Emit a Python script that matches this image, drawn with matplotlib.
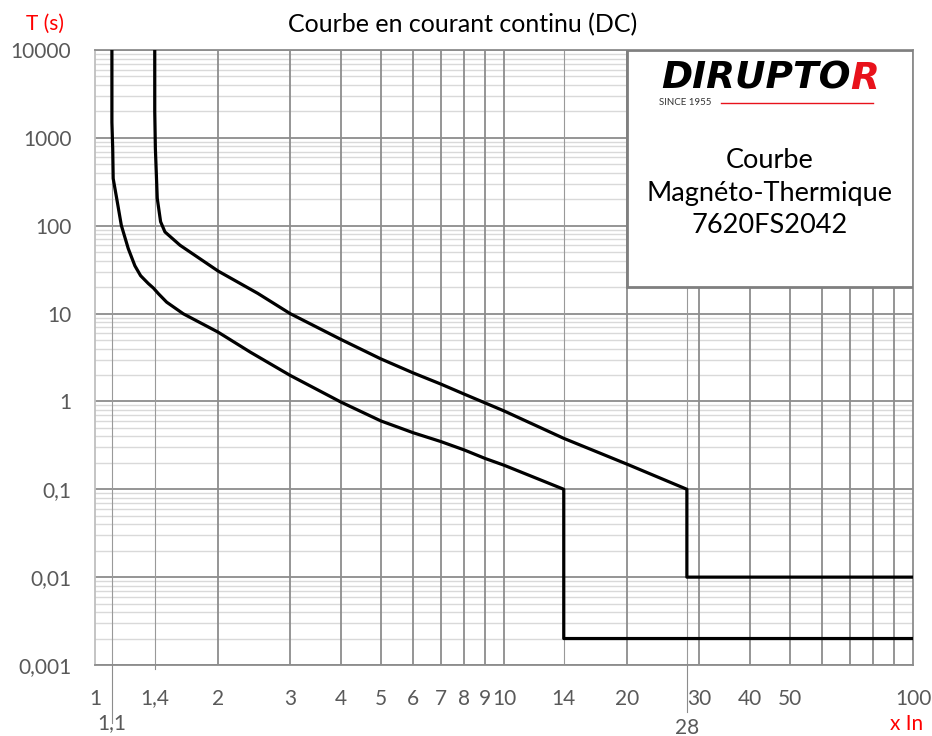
import matplotlib
matplotlib.use("Agg")
import matplotlib.pyplot as plt
from matplotlib.patches import Rectangle
import numpy as np

plt.rcParams['font.family'] = ['Lato', 'DejaVu Sans']

# courbe basse (déclenchement mini)
x_bas = [1.1, 1.1, 1.105, 1.108, 1.13, 1.16, 1.206, 1.252, 1.293, 1.35, 1.39, 1.43, 1.497, 1.644, 2.0, 2.4, 3.0, 4.0, 5.0, 6.0, 7.0, 8.0, 9.0, 10.0, 14.0, 14.0, 100]
t_bas = [10000, 1500, 760, 345, 205, 101, 55, 35, 27, 22, 19.5, 16.8, 13.5, 9.95, 6.15, 3.63, 1.98, 0.98, 0.6, 0.44, 0.35, 0.28, 0.224, 0.188, 0.1, 0.002, 0.002]

# courbe haute (déclenchement maxi)
x_haut = [1.4, 1.4, 1.405, 1.42, 1.447, 1.483, 1.614, 2.0, 2.5, 3.0, 4.0, 5.0, 6.0, 7.0, 8.0, 9.0, 10.0, 14.0, 20.0, 28.0, 28.0, 100]
t_haut = [10000, 2000, 760, 205, 111, 85, 60, 30.5, 17, 10.0, 5.06, 3.05, 2.11, 1.58, 1.21, 0.96, 0.78, 0.38, 0.193, 0.1, 0.01, 0.01]

x_ticks = [1, 1.4, 2, 3, 4, 5, 6, 7, 8, 9, 10, 14, 20, 30, 40, 50, 100]
x_ticklabels = ['1', '1,4', '2', '3', '4', '5', '6', '7', '8', '9', '10', '14', '20', '30', '40', '50', '100']
x_extra = [1.1, 28]
x_extra_labels = ['1,1', '28']
y_ticks = [0.001, 0.01, 0.1, 1, 10, 100, 1000, 10000]
y_ticklabels = ['0,001', '0,01', '0,1', '1', '10', '100', '1000', '10000']

x_grid = [2, 3, 4, 5, 6, 7, 8, 9, 10, 20, 30, 40, 50, 60, 70, 80, 90]
x_grid_fin = [1.1, 1.4, 14, 28]

gris = '#595959'
fig = plt.figure(figsize=(9.32, 7.36), dpi=100)
ax = fig.add_axes([0.1019, 0.0965, 0.8777, 0.8355])
ax.set_xscale('log')
ax.set_yscale('log')
ax.set_xlim(1, 100)
ax.set_ylim(0.001, 10000)

# grille
for d in range(-3, 4):
    for k in range(2, 10):
        ax.axhline(k * 10.0 ** d, color='#d9d9d9', lw=1.0, zorder=1)
for v in y_ticks:
    ax.axhline(v, color='#8c8c8c', lw=1.3, zorder=1.5)
for v in x_grid:
    ax.axvline(v, color='#8c8c8c', lw=1.3, zorder=1.5)
for v in x_grid_fin:
    ax.axvline(v, color='#999999', lw=0.8, zorder=1.5)

ax.plot(x_bas, t_bas, color='black', lw=2.3, zorder=3, solid_joinstyle='round')
ax.plot(x_haut, t_haut, color='black', lw=2.3, zorder=3, solid_joinstyle='round')

ax.set_xticks(x_ticks)
ax.set_xticklabels(x_ticklabels)
ax.set_xticks([], minor=True)
ax.set_yticks(y_ticks)
ax.set_yticklabels(y_ticklabels)
ax.set_yticks([], minor=True)
ax.tick_params(axis='both', length=0, labelsize=15, colors=gris)
ax.tick_params(axis='x', pad=17)
ax.tick_params(axis='y', pad=17)

for s in ax.spines.values():
    s.set_color('#8c8c8c')
    s.set_linewidth(1.3)
ax.spines['left'].set_color('#bfbfbf')

# repères 1,1 et 28 sous l'axe
tr = ax.get_xaxis_transform()
ax.plot([1.1, 1.1], [0, -0.095], color='#8c8c8c', lw=0.8, transform=tr, clip_on=False)
ax.plot([1.4, 1.4], [0, -0.006], color='#8c8c8c', lw=0.8, transform=tr, clip_on=False)
ax.plot([28, 28], [0, -0.076], color='#8c8c8c', lw=0.8, transform=tr, clip_on=False)
ax.text(x_extra[0], -0.094, x_extra_labels[0], transform=tr, ha='center', va='center', fontsize=15, color=gris)
ax.text(x_extra[1], -0.102, x_extra_labels[1], transform=tr, ha='center', va='center', fontsize=15, color=gris)

fig.text(0.496, 0.966, 'Courbe en courant continu (DC)', ha='center', va='center', fontsize=18, color='black')
fig.text(0.048, 0.967, 'T (s)', ha='center', va='center', fontsize=15, color='red')
fig.text(0.973, 0.016, 'x In', ha='center', va='center', fontsize=15, color='red')

# cartouche
ax.add_patch(Rectangle((0.65, 0.615), 0.35, 0.385, transform=ax.transAxes,
                       facecolor='white', edgecolor='#7f7f7f', lw=2, zorder=5))
ax.text(0.825, 0.767, 'Courbe\nMagnéto-Thermique\n7620FS2042', transform=ax.transAxes,
        ha='center', va='center', fontsize=19.5, color='black', linespacing=1.37, zorder=6)
logo = ax.text(0.692, 0.953, 'DIRUPTO', transform=ax.transAxes, ha='left', va='center',
               fontsize=27, fontweight='heavy', style='italic', family='DejaVu Sans', color='black', zorder=6)
ax.annotate('R', xy=(1, 0.5), xycoords=logo, ha='left', va='center',
            fontsize=27, fontweight='heavy', style='italic', family='DejaVu Sans', color='#e8121b', zorder=6)
ax.text(0.690, 0.914, 'SINCE 1955', transform=ax.transAxes, ha='left', va='center',
        fontsize=7, color='#333333', zorder=6)
ax.plot([0.765, 0.951], [0.914, 0.914], transform=ax.transAxes, color='#e8121b', lw=1, zorder=6)

fig.savefig('out.png', dpi=100)
